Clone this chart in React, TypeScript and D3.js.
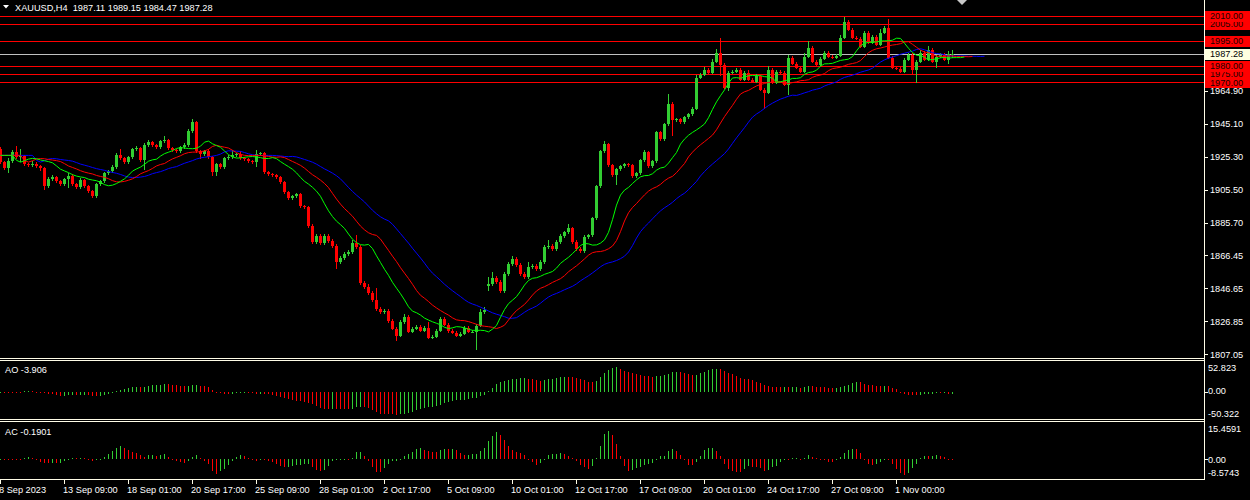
import React from "react";
import * as d3 from "d3";

const W = 1250;
const H = 500;
const AXIS_X = 1204;
const FONT = "'Liberation Sans', Arial, sans-serif";

// time axis: one label every 16 H4 bars
const timeLabels = [
  "8 Sep 2023", "13 Sep 09:00", "18 Sep 01:00", "20 Sep 17:00", "25 Sep 09:00",
  "28 Sep 01:00", "2 Oct 17:00", "5 Oct 09:00", "10 Oct 01:00", "12 Oct 17:00",
  "17 Oct 09:00", "20 Oct 01:00", "24 Oct 17:00", "27 Oct 09:00", "1 Nov 00:00",
];
const BARS_PER_LABEL = 16;

const priceTicks = [1964.9, 1945.1, 1925.3, 1905.5, 1885.7, 1866.45, 1846.65, 1826.85, 1807.05];
const levels = [1970, 1975, 1980, 1995, 2005, 2010];
const BID = 1987.28;

const aoTicks = [
  { v: 52.823, label: "52.823", y: 367.5, tick: false },
  { v: 0, label: "0.00", y: 391, tick: true },
  { v: -50.322, label: "-50.322", y: 413.5, tick: false },
];
const acTicks = [
  { v: 15.4591, label: "15.4591", y: 428.5, tick: false },
  { v: 0, label: "0.00", y: 459.3, tick: true },
  { v: -8.5743, label: "-8.5743", y: 472.8, tick: false },
];

const FIRST_OPEN = 1929.9;
const gapOpens = new Map<number, number>([[122, 1848.0], [238, 1987.11]]);

// closes per H4 bar (XAUUSD)
const closes = [
  1922.1, 1918.5, 1922.7, 1928.1, 1925.1, 1925.7, 1920.9, 1920.3, 1920.9, 1919.7,
  1918.5, 1907.7, 1911.9, 1913.1, 1910.7, 1908.9, 1911.9, 1913.7, 1908.9, 1907.1,
  1911.3, 1907.7, 1904.7, 1901.8, 1908.9, 1910.7, 1915.5, 1916.7, 1919.1, 1926.3,
  1924.5, 1922.1, 1925.1, 1929.8, 1930.4, 1923.3, 1932.2, 1934.0, 1932.2, 1931.0,
  1934.6, 1935.2, 1930.4, 1929.3, 1928.7, 1931.0, 1932.2, 1940.6, 1946.0, 1928.7,
  1926.9, 1928.7, 1925.1, 1916.1, 1920.9, 1919.1, 1924.5, 1925.1, 1926.3, 1926.9,
  1924.5, 1923.9, 1922.7, 1922.1, 1926.9, 1927.5, 1916.1, 1914.9, 1914.3, 1913.1,
  1910.1, 1904.1, 1900.6, 1901.8, 1903.0, 1895.8, 1895.2, 1883.8, 1874.3, 1877.9,
  1873.7, 1877.9, 1874.9, 1871.9, 1862.3, 1864.7, 1867.1, 1868.3, 1873.7, 1871.3,
  1849.8, 1847.4, 1843.8, 1839.6, 1834.2, 1832.4, 1833.0, 1827.0, 1822.3, 1818.1,
  1826.4, 1829.4, 1820.5, 1822.3, 1823.5, 1821.1, 1822.9, 1816.9, 1817.5, 1821.1,
  1828.2, 1824.7, 1821.1, 1819.9, 1818.1, 1819.3, 1822.9, 1820.5, 1820.5, 1824.1,
  1832.4, 1833.6, 1849.2, 1852.7, 1850.4, 1845.0, 1855.1, 1861.1, 1864.1, 1860.5,
  1855.1, 1853.3, 1859.3, 1859.9, 1858.1, 1862.3, 1871.3, 1871.9, 1870.1, 1874.3,
  1877.9, 1880.2, 1882.6, 1874.3, 1870.1, 1868.9, 1877.3, 1878.4, 1888.6, 1907.7,
  1928.7, 1932.8, 1920.3, 1914.3, 1917.9, 1919.7, 1920.9, 1920.3, 1913.7, 1915.5,
  1923.3, 1928.1, 1919.7, 1922.7, 1940.0, 1935.8, 1944.8, 1957.3, 1947.2, 1947.8,
  1946.0, 1949.0, 1950.8, 1954.3, 1972.9, 1974.7, 1977.7, 1975.9, 1982.4, 1987.8,
  1980.6, 1966.9, 1975.9, 1976.5, 1977.7, 1971.7, 1975.9, 1971.7, 1970.5, 1974.1,
  1965.7, 1963.9, 1977.7, 1969.9, 1976.5, 1975.9, 1968.7, 1984.8, 1981.3, 1978.9,
  1976.5, 1985.4, 1990.8, 1982.4, 1980.6, 1984.2, 1987.8, 1985.4, 1984.8, 1986.0,
  1996.8, 2006.4, 2001.6, 1996.8, 1996.2, 1991.4, 1999.8, 1993.8, 1997.4, 1992.6,
  1999.8, 2002.8, 1984.8, 1978.9, 1978.3, 1976.5, 1983.6, 1986.6, 1977.7, 1982.4,
  1987.8, 1983.6, 1989.6, 1982.4, 1985.4, 1986.6, 1983.6, 1987.1, 1987.28,
];

// wick lengths above / below the body, in dollars
const upWick = [
  1.5, 1, 2, 1.5, 3.5, 4.5, 1, 1, 2, 1.5,
  1, 1, 1.5, 1.5, 1, 1, 1, 2, 1.5, 1,
  1.5, 1, 1, 1, 1, 1, 1, 1, 1.5, 1.5,
  4, 1, 1, 1, 1.5, 1, 1.5, 1.5, 1, 1,
  1, 2.5, 1, 1, 1, 1, 1.5, 1.5, 2, 1,
  1, 1, 1.5, 1, 1, 1, 1, 1.5, 3, 1,
  2, 1, 1, 1, 2.5, 1, 1, 1, 1, 1,
  1, 1, 1, 1, 1, 1, 1, 1, 1.5, 1,
  1, 1, 1, 1, 1, 1, 1, 1, 2, 5,
  1, 1, 1.5, 1, 7, 1, 1, 1, 1, 1,
  1, 1.5, 1, 1, 1, 1, 1, 3.5, 1, 1,
  1, 1, 1, 1, 1, 1, 1, 1, 1, 1,
  2, 1.5, 4, 3.5, 1, 1, 1, 1, 2, 1,
  1, 1, 3, 1, 1, 1, 1, 3.5, 1, 1,
  1.5, 1, 2.5, 1, 1, 1, 1, 1, 1, 1,
  1, 2, 1, 1, 1, 1, 1, 1, 1, 1,
  1, 1.5, 1, 1, 1, 1, 1, 5.5, 1, 1,
  1, 1, 1, 1, 1.5, 1, 1.5, 1, 1.5, 2,
  9, 1, 1, 1, 1, 1, 1, 1.5, 1, 1,
  1, 1, 2, 1, 1, 1, 1, 1.5, 1, 1,
  1, 2, 4, 1, 1, 1, 1, 1, 1, 1,
  1.5, 3, 1, 1, 1, 1, 1, 1, 1, 1,
  2, 1, 5, 1, 1, 1, 1, 1, 1, 1,
  1.5, 1, 2, 1, 1, 1, 1, 1.5, 1.87,
];
const downWick = [
  1, 1, 3, 1, 1, 3, 1, 1, 1, 1,
  1.5, 2, 1, 1, 1, 1, 1, 5, 1, 1,
  1, 1, 1, 1, 1, 1, 1, 1, 1, 1,
  1, 1, 1, 1, 1, 1, 6, 1, 1, 1,
  1, 1, 1, 1, 1, 1, 1, 1, 1, 1,
  3, 1, 1, 2.5, 2, 1, 1, 1, 1, 1,
  1, 1, 1, 1, 3, 1, 1, 1, 1, 1,
  1, 1, 1, 1, 1, 1, 1, 1, 1, 1,
  1, 1, 1, 1, 4, 1, 1, 1, 1, 1,
  1, 1, 1, 1, 1, 1, 1, 1, 1, 3,
  1, 1, 1, 1, 1, 1, 1, 1, 1, 1,
  1, 1, 1.5, 1, 1, 1, 1, 1, 1, 11,
  1, 1.5, 3, 1, 1, 1, 1, 1, 1, 1,
  1, 1, 1, 1, 1, 1, 1, 1, 1, 1,
  1, 1, 1, 1, 1, 1, 1, 1, 1, 1,
  1, 1, 1, 1, 6, 1, 1, 1, 1, 1,
  1, 1, 1, 1, 1, 1, 1, 1, 9.5, 1,
  1, 1, 1, 1, 1, 1, 1, 1, 1, 1,
  7, 1, 2, 1, 1, 1, 1, 1, 1, 1,
  1, 10, 1, 1, 1, 1, 1, 6, 1, 1,
  1, 1, 1, 1, 1, 1, 1, 1, 1, 1,
  1, 1, 1, 1, 1, 1, 1, 1, 1, 1,
  1, 1, 1, 1, 1, 1, 1, 1, 3, 8,
  1, 1, 1, 1, 3.5, 1, 1, 2.6, 2.64,
];

const BULL = "#32cd32";
const BEAR = "#ff0000";
const FG = "#ffffff";
const FRAME = "#fffde8";

function sma(arr: number[], p: number) {
  return arr.map((_, i) => d3.mean(arr.slice(Math.max(0, i - p + 1), i + 1)) as number);
}

function smma(arr: number[], p: number) {
  const out: number[] = [];
  arr.forEach((v, i) => {
    if (i < p) out.push(d3.mean(arr.slice(0, i + 1)) as number);
    else out.push((out[i - 1] * (p - 1) + v) / p);
  });
  return out;
}

export default function App() {
  const n = closes.length;
  const opens = closes.map((c, i) => (i === 0 ? FIRST_OPEN : gapOpens.get(i) ?? closes[i - 1]));
  const highs = closes.map((c, i) => Math.max(opens[i], c) + upWick[i]);
  const lows = closes.map((c, i) => Math.min(opens[i], c) - downWick[i]);
  const median = highs.map((h, i) => (h + lows[i]) / 2);

  const x = d3.scaleLinear().domain([0, 1]).range([0.5, 4.5]);
  const y = d3.scaleLinear().domain([1804.78, 2019.41]).range([358, 0]);
  const yAO = d3.scaleLinear().domain([-50.322, 52.823]).range([417, 365]).clamp(true);
  const yAC = d3.scaleLinear().domain([-8.5743, 15.4591]).range([476, 427]).clamp(true);

  // Awesome / Accelerator oscillators
  const sma5 = sma(median, 5);
  const sma34 = sma(median, 34);
  const ao = sma5.map((v, i) => v - sma34[i]);
  const aoSma = sma(ao, 5);
  const ac = ao.map((v, i) => v - aoSma[i]);

  // Alligator: jaw 13/8, teeth 8/5, lips 5/3
  const alligator = [
    { period: 13, shift: 8, color: "#0000ff" },
    { period: 8, shift: 5, color: "#ff0000" },
    { period: 5, shift: 3, color: "#00ff00" },
  ].map((a) => {
    const s = smma(median, a.period);
    const pts = d3.range(n + a.shift).map((j) => [x(j), y(s[Math.max(0, j - a.shift)])] as [number, number]);
    return { ...a, d: d3.line()(pts) as string };
  });

  const txt = { fontFamily: FONT, fontSize: 9.2, fill: FG, style: { whiteSpace: "pre" as const } };

  return (
    <div style={{ position: "fixed", left: 0, top: 0, width: W, height: H, background: "#000" }}>
      <svg width={W} height={H} style={{ display: "block" }}>
        <rect width={W} height={H} fill="#000" />

        {/* horizontal levels */}
        <g shapeRendering="crispEdges">
          {levels.map((p) => (
            <line key={p} x1={0} x2={AXIS_X} y1={Math.round(y(p)) + 0.5} y2={Math.round(y(p)) + 0.5} stroke="#ff0000" />
          ))}
          <line x1={0} x2={AXIS_X} y1={Math.round(y(BID)) + 0.5} y2={Math.round(y(BID)) + 0.5} stroke="#c0c0c0" />
        </g>

        {/* candles */}
        <g shapeRendering="crispEdges">
          {closes.map((c, i) => {
            const o = opens[i];
            const col = c >= o ? BULL : BEAR;
            const cx = Math.floor(x(i));
            const top = Math.round(y(Math.max(o, c)));
            const bot = Math.round(y(Math.min(o, c)));
            return (
              <g key={i} fill={col}>
                <rect x={cx} width={1} y={Math.round(y(highs[i]))} height={Math.max(1, Math.round(y(lows[i])) - Math.round(y(highs[i])))} />
                <rect x={cx - 1} width={3} y={top} height={Math.max(1, bot - top)} />
              </g>
            );
          })}
        </g>

        {/* alligator */}
        <g fill="none" strokeWidth={1}>
          {alligator.map((a) => (
            <path key={a.period} d={a.d} stroke={a.color} />
          ))}
        </g>

        {/* AO / AC histograms */}
        <g shapeRendering="crispEdges">
          {ao.map((v, i) => {
            const up = i === 0 || v > ao[i - 1];
            const y0 = yAO(0);
            const y1 = yAO(v);
            return (
              <rect key={i} x={Math.floor(x(i))} width={1} y={Math.min(y0, y1)} height={Math.max(1, Math.abs(y1 - y0))} fill={up ? BULL : BEAR} />
            );
          })}
          {ac.map((v, i) => {
            const up = i === 0 || v > ac[i - 1];
            const y0 = yAC(0);
            const y1 = yAC(v);
            return (
              <rect key={i} x={Math.floor(x(i))} width={1} y={Math.min(y0, y1)} height={Math.max(1, Math.abs(y1 - y0))} fill={up ? BULL : BEAR} />
            );
          })}
        </g>

        {/* frames */}
        <g stroke={FRAME} shapeRendering="crispEdges">
          <line x1={0} x2={AXIS_X} y1={358.5} y2={358.5} />
          <line x1={0} x2={AXIS_X} y1={360.5} y2={360.5} />
          <line x1={0} x2={AXIS_X} y1={419.5} y2={419.5} />
          <line x1={0} x2={AXIS_X} y1={421.5} y2={421.5} />
          <line x1={0} x2={AXIS_X + 1} y1={479.5} y2={479.5} />
          <line x1={AXIS_X + 0.5} x2={AXIS_X + 0.5} y1={0} y2={480} />
          {priceTicks.map((p) => (
            <line key={p} x1={AXIS_X + 1} x2={AXIS_X + 4} y1={Math.round(y(p)) + 0.5} y2={Math.round(y(p)) + 0.5} />
          ))}
          {aoTicks.filter((t) => t.tick).map((t) => (
            <line key={"ao" + t.v} x1={AXIS_X + 1} x2={AXIS_X + 4} y1={Math.round(yAO(t.v)) + 0.5} y2={Math.round(yAO(t.v)) + 0.5} />
          ))}
          {acTicks.filter((t) => t.tick).map((t) => (
            <line key={"ac" + t.v} x1={AXIS_X + 1} x2={AXIS_X + 4} y1={Math.round(yAC(t.v)) + 0.5} y2={Math.round(yAC(t.v)) + 0.5} />
          ))}
          {timeLabels.map((_, k) => {
            const tx = Math.floor(x(k * BARS_PER_LABEL)) + 0.5;
            return <line key={k} x1={tx} x2={tx} y1={480} y2={484} />;
          })}
        </g>

        {/* price axis labels */}
        {priceTicks.map((p) => (
          <text key={p} x={1210} y={y(p) + 3.4} {...txt}>
            {p.toFixed(2)}
          </text>
        ))}
        {aoTicks.map((t) => (
          <text key={t.label} x={1208} y={t.y + 3.4} {...txt}>
            {t.label}
          </text>
        ))}
        {acTicks.map((t) => (
          <text key={t.label + "c"} x={1208} y={t.y + 3.4} {...txt}>
            {t.label}
          </text>
        ))}

        {/* level labels */}
        {levels.map((p) => (
          <g key={p}>
            <rect x={1205} y={Math.round(y(p)) - 5} width={W - 1205} height={11} fill="#ff0000" shapeRendering="crispEdges" />
            <text x={1210} y={y(p) + 3.4} {...txt} fill="#200000">
              {p.toFixed(2)}
            </text>
          </g>
        ))}
        <rect x={1205} y={Math.round(y(BID)) - 5} width={W - 1205} height={11} fill="#ffffe0" shapeRendering="crispEdges" />
        <text x={1210} y={y(BID) + 3.4} {...txt} fill="#000">
          {BID.toFixed(2)}
        </text>

        {/* time labels */}
        {timeLabels.map((t, k) => (
          <text key={t} x={Math.floor(x(k * BARS_PER_LABEL)) - 1} y={493} {...txt}>
            {t}
          </text>
        ))}

        {/* headers */}
        <path d="M3,5 L9,5 L6,8.5 Z" fill={FG} />
        <text x={15} y={10.5} {...txt}>
          {"XAUUSD,H4  1987.11 1989.15 1984.47 1987.28"}
        </text>
        <text x={5} y={372.5} {...txt}>
          AO -3.906
        </text>
        <text x={5} y={434.5} {...txt}>
          AC -0.1901
        </text>
        <path d="M957,0 L967,0 L962,5 Z" fill="#c8c8c8" />
      </svg>
    </div>
  );
}
